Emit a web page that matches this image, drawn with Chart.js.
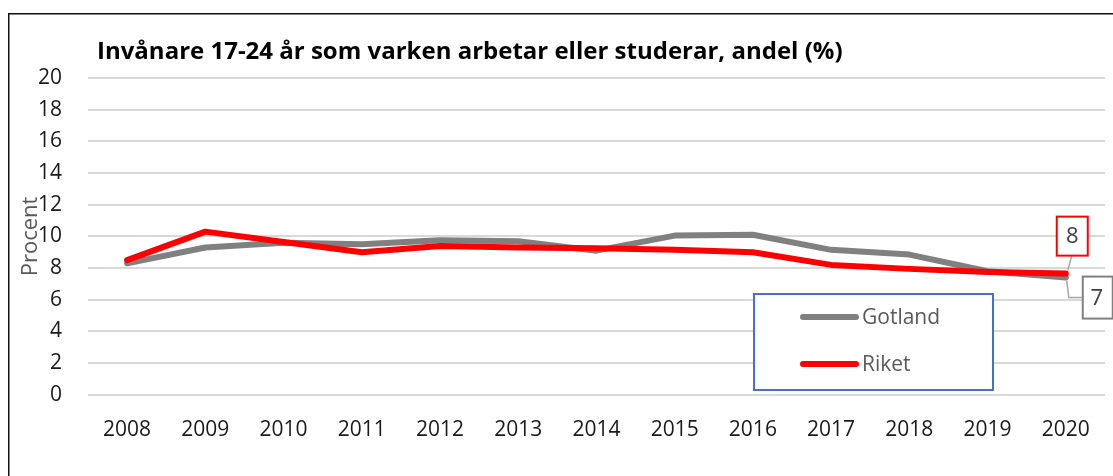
<!DOCTYPE html>
<html>
<head>
<meta charset="utf-8">
<script src="https://cdn.jsdelivr.net/npm/chart.js@4/dist/chart.umd.min.js"></script>
<style>
  html, body { margin: 0; padding: 0; background: #fff; overflow: hidden; }
  #wrap { position: relative; width: 1113px; height: 476px; }
</style>
</head>
<body>
<div id="wrap"><canvas id="chart" width="1113" height="476"></canvas></div>
<script>
// data
const years = ['2008', '2009', '2010', '2011', '2012', '2013', '2014', '2015', '2016', '2017', '2018', '2019', '2020'];
const gotland = [8.3, 9.3, 9.6, 9.5, 9.75, 9.7, 9.1, 10.05, 10.1, 9.15, 8.85, 7.8, 7.4];
const riket = [8.5, 10.3, 9.65, 9.0, 9.4, 9.3, 9.25, 9.15, 9.0, 8.2, 7.95, 7.75, 7.65];
const yTicks = [0, 2, 4, 6, 8, 10, 12, 14, 16, 18, 20];

const titleText = 'Invånare 17-24 år som varken arbetar eller studerar, andel (%)';
const FONT = "'Open Sans', 'Noto Sans', sans-serif";

// frame, title and y axis caption
const decorPlugin = {
    id: 'decor',
    beforeDraw(chart) {
        const ctx = chart.ctx;
        ctx.save();
        ctx.fillStyle = '#fff';
        ctx.fillRect(0, 0, chart.width, chart.height);
        ctx.strokeStyle = '#111';
        ctx.lineWidth = 1.5;
        ctx.beginPath();
        ctx.moveTo(8.75, chart.height + 5);
        ctx.lineTo(8.75, 13.75);
        ctx.lineTo(chart.width + 5, 13.75);
        ctx.stroke();
        ctx.restore();
    },
    afterDraw(chart) {
        const ctx = chart.ctx;
        const area = chart.chartArea;
        ctx.save();
        ctx.fillStyle = '#000';
        ctx.font = 'bold 24px ' + FONT;
        ctx.textAlign = 'left';
        ctx.textBaseline = 'middle';
        ctx.fillText(titleText, 97, 52);

        ctx.translate(31, (area.top + area.bottom) / 2);
        ctx.rotate(-Math.PI / 2);
        ctx.fillStyle = '#595959';
        ctx.font = '22px ' + FONT;
        ctx.textAlign = 'center';
        ctx.fillText('Procent', 0, 0);
        ctx.restore();
    }
};

// labels on the last point of each series
const lastLabelPlugin = {
    id: 'lastLabel',
    afterDatasetsDraw(chart) {
        const ctx = chart.ctx;
        ctx.save();
        ctx.font = '22px ' + FONT;
        ctx.textAlign = 'center';
        ctx.textBaseline = 'middle';
        chart.data.datasets.forEach((ds, i) => {
            const meta = chart.getDatasetMeta(i);
            const pt = meta.data[meta.data.length - 1];
            const val = ds.data[ds.data.length - 1];
            const txt = String(Math.round(val));
            const o = ds.labelBox;
            const bx = pt.x + o.dx, by = pt.y + o.dy;
            // leader line
            ctx.strokeStyle = '#a6a6a6';
            ctx.lineWidth = 1.5;
            ctx.beginPath();
            o.leader.forEach((p, k) => {
                const x = pt.x + p[0], y = pt.y + p[1];
                if (k === 0) ctx.moveTo(x, y); else ctx.lineTo(x, y);
            });
            ctx.stroke();
            // box
            ctx.fillStyle = '#fff';
            ctx.fillRect(bx, by, o.w, o.h);
            ctx.strokeStyle = o.color;
            ctx.lineWidth = 2;
            ctx.strokeRect(bx, by, o.w, o.h);
            ctx.fillStyle = '#404040';
            ctx.fillText(txt, bx + (o.textX || o.w / 2), by + o.h / 2 + 1);
        });
        ctx.restore();
    }
};

// boxed legend inside the plot
const boxLegendPlugin = {
    id: 'boxLegend',
    afterDraw(chart) {
        const ctx = chart.ctx;
        ctx.save();
        ctx.strokeStyle = '#4472c4';
        ctx.lineWidth = 2;
        ctx.fillStyle = '#fff';
        ctx.fillRect(754, 294, 239, 96);
        ctx.strokeRect(754, 294, 239, 96);
        const rows = [317, 364];
        chart.data.datasets.forEach((ds, i) => {
            const y = rows[i];
            ctx.strokeStyle = ds.borderColor;
            ctx.lineWidth = 6;
            ctx.lineCap = 'round';
            ctx.beginPath();
            ctx.moveTo(803, y);
            ctx.lineTo(856, y);
            ctx.stroke();
            ctx.fillStyle = '#595959';
            ctx.font = '21px ' + FONT;
            ctx.textAlign = 'left';
            ctx.textBaseline = 'middle';
            ctx.fillText(ds.label, 862, y + 1);
        });
        ctx.restore();
    }
};

new Chart(document.getElementById('chart'), {
    type: 'line',
    data: {
        labels: years,
        datasets: [
            {
                label: 'Gotland',
                data: gotland,
                borderColor: '#808080',
                borderWidth: 6,
                pointRadius: 0,
                tension: 0,
                borderJoinStyle: 'round',
                borderCapStyle: 'round',
                order: 1,
                labelBox: { dx: 17, dy: -1, w: 30, h: 42, textX: 14, color: '#808080',
                            leader: [[1, 3], [3, 20], [17, 20]] }
            },
            {
                label: 'Riket',
                data: riket,
                borderColor: '#ff0000',
                borderWidth: 6,
                pointRadius: 0,
                tension: 0,
                borderJoinStyle: 'round',
                borderCapStyle: 'round',
                order: 0,
                labelBox: { dx: -9, dy: -57, w: 31, h: 39, color: '#ff0000',
                            leader: [[6, -18], [2, -3]] }
            }
        ]
    },
    options: {
        responsive: false,
        animation: false,
        layout: { padding: { left: 0, right: 6, top: 78, bottom: 10 } },
        plugins: {
            legend: { display: false },
            title: { display: false },
            tooltip: { enabled: false }
        },
        scales: {
            x: {
                offset: true,
                grid: { display: false, drawTicks: false },
                border: { display: false },
                ticks: { color: '#1a1a1a', font: { family: FONT, size: 21 }, padding: 23, maxRotation: 0 }
            },
            y: {
                min: 0,
                max: 20,
                afterFit(scale) { scale.width = 88; },
                afterBuildTicks(scale) { scale.ticks = yTicks.map(v => ({ value: v })); },
                grid: { color: '#d9d9d9', lineWidth: 2, drawTicks: false },
                border: { display: false },
                ticks: { color: '#1a1a1a', font: { family: FONT, size: 21 }, padding: 26 }
            }
        }
    },
    plugins: [decorPlugin, lastLabelPlugin, boxLegendPlugin]
});
</script>
</body>
</html>
